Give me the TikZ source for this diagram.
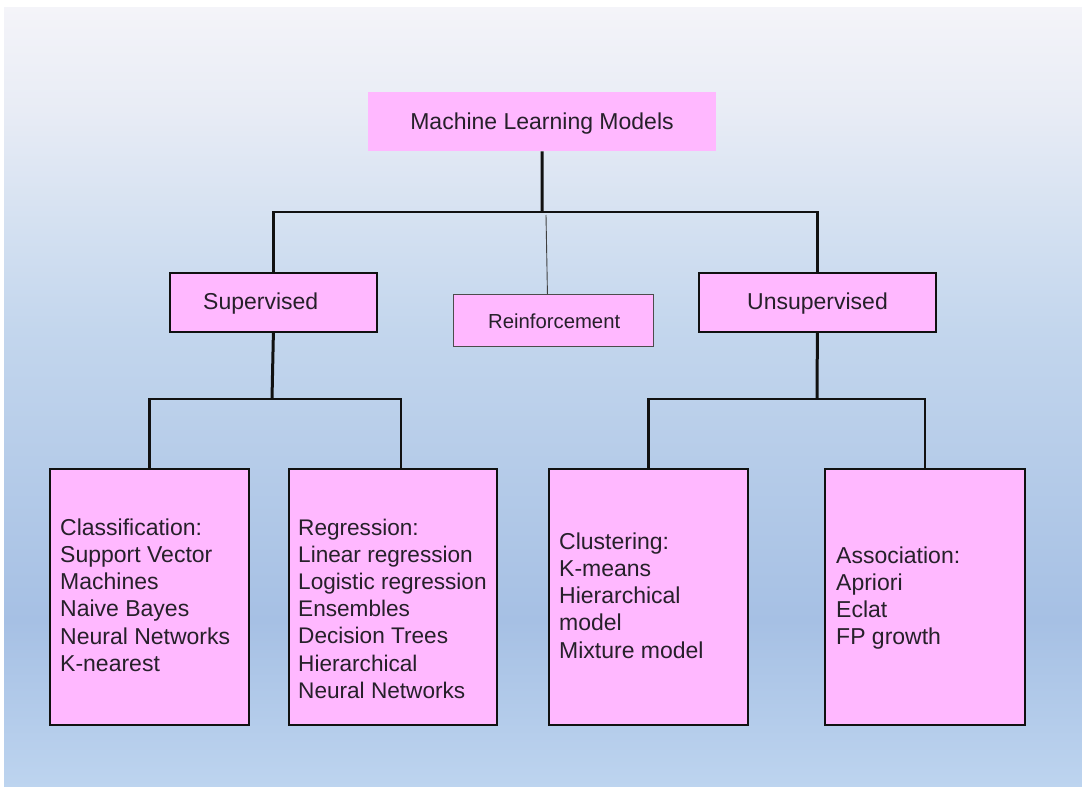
\documentclass[tikz,border=0pt]{standalone}
\usepackage{fontspec}
\setmainfont{Liberation Sans}
\definecolor{boxpink}{HTML}{FFB8FF}
\definecolor{txt}{HTML}{26202A}
\definecolor{lnc}{HTML}{111111}
\definecolor{bga}{HTML}{F4F4F9}
\definecolor{bgb}{HTML}{E8ECF5}
\definecolor{bgc}{HTML}{D3E0F1}
\definecolor{bgd}{HTML}{C3D6ED}
\definecolor{bge}{HTML}{A6C0E4}
\definecolor{bgf}{HTML}{BDD4EF}
\begin{document}
\begin{tikzpicture}[x=1pt,y=-1pt,
  pinkbox/.style={fill=boxpink, inner sep=0pt, anchor=north west},
  plainbox/.style={pinkbox, draw=none},
  framebox/.style={pinkbox, draw=lnc, line width=1.8pt},
  thinbox/.style={pinkbox, draw=black!70, line width=0.9pt},
  lbl/.style={inner sep=0pt, text=txt, font=\fontsize{23}{27.3}\selectfont},
  conn/.style={draw=lnc, line width=2.4pt},
  trunk/.style={draw=lnc, line width=3pt},
  thinconn/.style={draw=black!75, line width=0.9pt}]
\useasboundingbox (0,0) rectangle (1082,787);
\fill[white] (0,0) rectangle (1082,787);
\shade[top color=bga, bottom color=bgb] (4,7) rectangle (1082,111);
\shade[top color=bgb, bottom color=bgc] (4,110) rectangle (1082,231);
\shade[top color=bgc, bottom color=bgd] (4,230) rectangle (1082,331);
\shade[top color=bgd, bottom color=bge] (4,330) rectangle (1082,621);
\shade[top color=bge, bottom color=bgf] (4,620) rectangle (1082,787);

% boxes
\node[plainbox, minimum width=348pt, minimum height=59pt] (ml) at (368,92) {};
\node[framebox, minimum width=207pt, minimum height=59pt] (sup) at (169,272) {};
\node[thinbox, minimum width=200pt, minimum height=52pt] (rl) at (453,294) {};
\node[framebox, minimum width=237pt, minimum height=59pt] (uns) at (698,272) {};
\node[framebox, minimum width=199pt, minimum height=256pt] (cls) at (49,468) {};
\node[framebox, minimum width=208pt, minimum height=256pt] (reg) at (288,468) {};
\node[framebox, minimum width=199pt, minimum height=256pt] (clu) at (548,468) {};
\node[framebox, minimum width=200pt, minimum height=256pt] (aso) at (824,468) {};

% texts
\node[lbl, anchor=base] (tml) at (542,129) {Machine Learning Models};
\node[lbl, anchor=base west] (tsup) at (203,309) {Supervised};
\node[lbl, anchor=base west, font=\fontsize{20.3}{24}\selectfont] (trl) at (488,328) {Reinforcement};
\node[lbl, anchor=base west] (tuns) at (747,309) {Unsupervised};
\node[lbl, anchor=base west] (tcls) at (60,535) {\begin{tabular}[t]{@{}l@{}}Classification:\\Support Vector\\Machines\\Naive Bayes\\Neural Networks\\K-nearest\end{tabular}};
\node[lbl, anchor=base west, font=\fontsize{22.6}{27.2}\selectfont] (treg) at (298,535) {\begin{tabular}[t]{@{}l@{}}Regression:\\Linear regression\\Logistic regression\\Ensembles\\Decision Trees\\Hierarchical\\Neural Networks\end{tabular}};
\node[lbl, anchor=base west] (tclu) at (559,549) {\begin{tabular}[t]{@{}l@{}}Clustering:\\K-means\\Hierarchical\\model\\Mixture model\end{tabular}};
\node[lbl, anchor=base west] (taso) at (836,563) {\begin{tabular}[t]{@{}l@{}}Association:\\Apriori\\Eclat\\FP growth\end{tabular}};

% connectors
\coordinate (j1) at (542,212);
\coordinate (j2) at (272,399);
\coordinate (j3) at (817,399);
\coordinate (rtop) at (546,215);
\draw[trunk] (ml.south) -- (j1);
\draw[conn] (sup.north) |- (j1) -| (uns.north);
\draw[thinconn] (rtop) -- ([xshift=-6pt]rl.north);
\draw[trunk] (sup.south) -- (j2);
\draw[conn] (cls.north) |- (j2) -| ([xshift=8pt]reg.north);
\draw[trunk] (uns.south) -- (j3);
\draw[conn] (clu.north) |- (j3) -| (aso.north);
\end{tikzpicture}
\end{document}
